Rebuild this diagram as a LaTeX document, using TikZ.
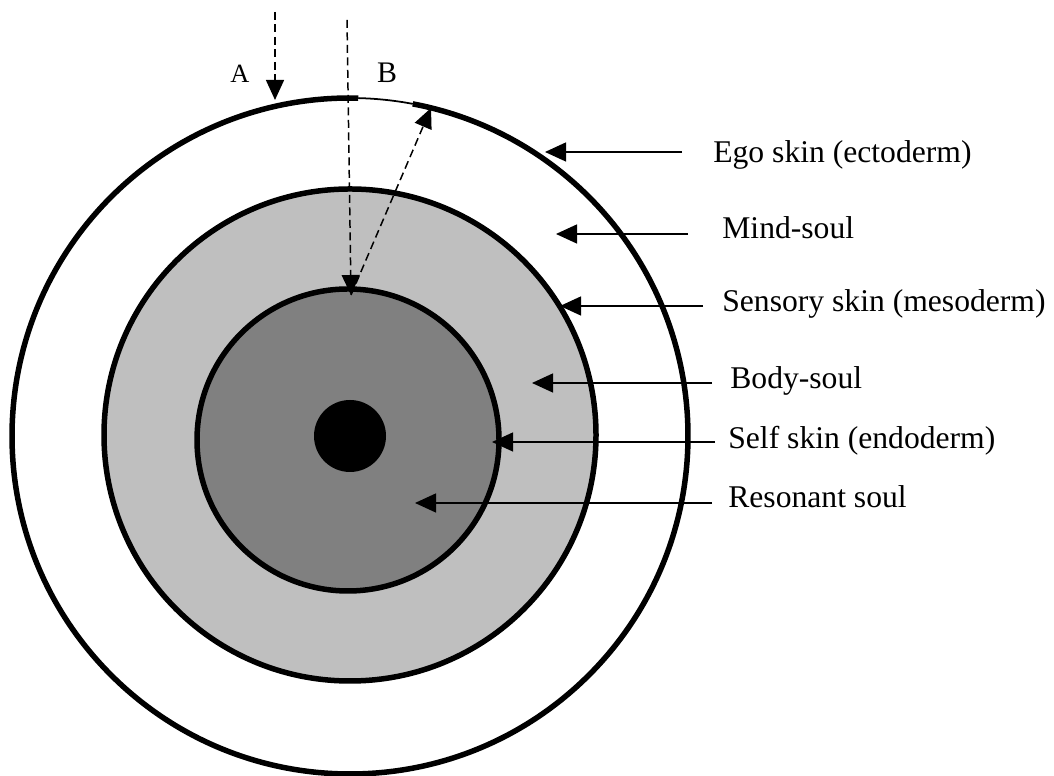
\documentclass[tikz,border=0pt]{standalone}
\usepackage{fontspec}
\setmainfont{Liberation Serif}
\usepackage{tikz}
\usetikzlibrary{arrows.meta}

\tikzset{
  shell/.style={line width=0.11cm, draw=black},
  pointer/.style={-{Triangle[length=0.42cm, width=0.38cm]}, line width=0.75pt},
  ray/.style={-{Triangle[length=0.4cm, width=0.36cm]}, line width=0.85pt, dash pattern=on 0.16cm off 0.09cm},
  layername/.style={anchor=base west, inner sep=0pt, font=\fontsize{18}{21}\selectfont},
  raylabel/.style={anchor=base, inner sep=0pt}
}

\begin{document}
\begin{tikzpicture}[x=0.02cm, y=0.02cm]
  \useasboundingbox (0,0) rectangle (1054,776);

  % --- Schichten ---
  \coordinate (c) at (350,340);
  \draw[shell] (c) ++(88.6:338) arc[start angle=88.6, end angle=439.3, radius=338];
  \draw[line width=1pt] (c) ++(79.3:338) arc[start angle=79.3, end angle=88.6, radius=338];
  \draw[shell, fill=black!25] (350,341) circle (246);
  \draw[shell, fill=black!50] (348,336) circle (151);
  \fill[black] (350,340) circle (36);

  % --- Strahlen A und B ---
  \node[raylabel, font=\fontsize{15}{17}\selectfont] (a) at (240,693) {A};
  \node[raylabel, font=\fontsize{17}{19}\selectfont] (b) at (387,693) {B};
  \coordinate (aS) at (275,764);
  \coordinate (aT) at (275,676);
  \coordinate (bS) at (347,756);
  \coordinate (bT) at (351,481);
  \coordinate (rT) at (431,668);
  \draw[ray] (aS) -- (aT);
  \draw[ray] (bS) -- (bT);
  \draw[ray] (bT) -- (rT);

  % --- Beschriftungen rechts ---
  \node[layername] (ego) at (713,613) {Ego skin (ectoderm)};
  \node[layername] (mind) at (722,537) {Mind-soul};
  \node[layername] (sensory) at (722,464) {Sensory skin (mesoderm)};
  \node[layername] (body) at (730,387) {Body-soul};
  \node[layername] (self) at (728,327) {Self skin (endoderm)};
  \node[layername] (resonant) at (728,268) {Resonant soul};

  % Pfeile zu den Schichten
  \coordinate (egoS) at (682,624);      \coordinate (egoT) at (545,624);
  \coordinate (mindS) at (688,542);     \coordinate (mindT) at (556,542);
  \coordinate (sensoryS) at (703,470);  \coordinate (sensoryT) at (560,470);
  \coordinate (bodyS) at (712,393);     \coordinate (bodyT) at (532,393);
  \coordinate (selfS) at (715,334);     \coordinate (selfT) at (492,334);
  \coordinate (resonantS) at (712,273); \coordinate (resonantT) at (415,273);
  \foreach \n in {ego, mind, sensory, body, self, resonant}
    \draw[pointer] (\n S) -- (\n T);
\end{tikzpicture}
\end{document}
